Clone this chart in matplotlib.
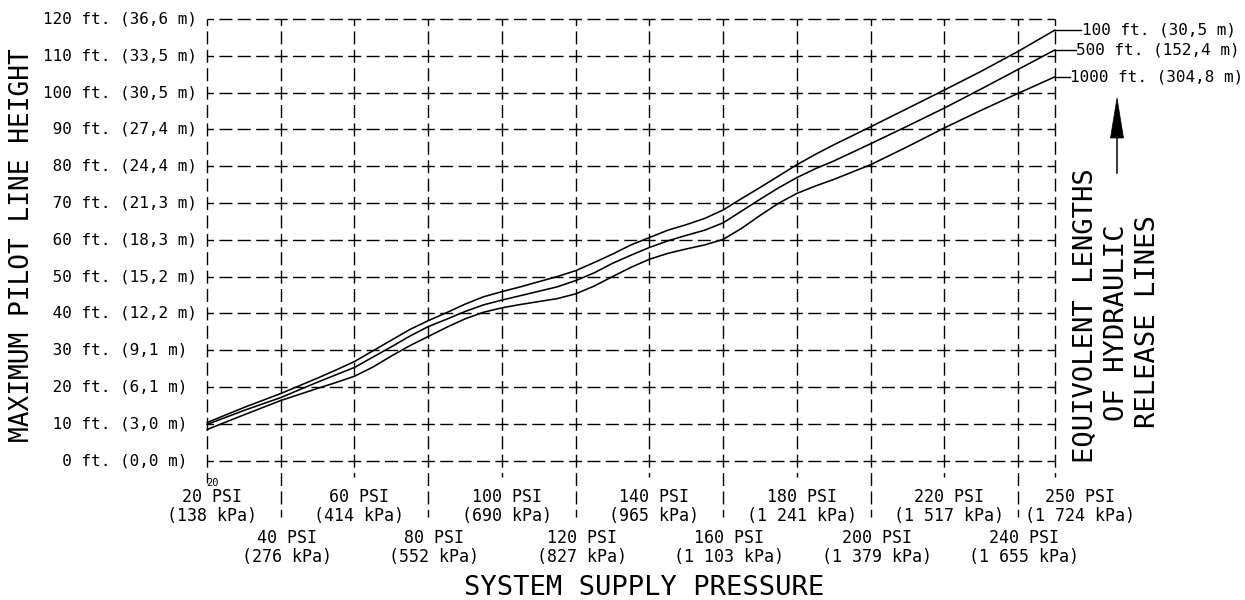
import matplotlib
matplotlib.use("Agg")
import matplotlib.pyplot as plt
import matplotlib.transforms as mtransforms
from matplotlib.patches import Polygon
from matplotlib.lines import Line2D

# ---------------- data ----------------
psi = [20, 30, 40, 50, 55, 60, 65, 70, 75, 80, 85, 90, 95, 100, 105, 110,
       115, 120, 125, 130, 135, 140, 145, 150, 155, 160, 165, 170, 175, 180,
       185, 190, 200, 210, 220, 230, 240, 250]
len_100 = [10.3, 14.4, 18.2, 22.4, 24.6, 26.9, 29.8, 32.7, 35.6, 38.0, 40.2,
           42.5, 44.5, 45.9, 47.2, 48.6, 50.0, 51.6, 53.8, 56.1, 58.6, 60.6,
           62.6, 64.1, 65.8, 68.1, 71.2, 74.2, 77.3, 80.4, 83.2, 85.8, 90.7,
           95.7, 100.7, 105.8, 111.2, 117.0]
len_500 = [9.8, 13.6, 17.1, 21.3, 23.3, 25.3, 28.1, 30.9, 33.8, 36.4, 38.4,
           40.5, 42.3, 43.6, 44.8, 46.0, 47.2, 48.9, 51.0, 53.6, 55.8, 57.9,
           59.7, 61.2, 62.6, 64.6, 67.8, 71.0, 74.1, 76.9, 79.3, 81.4, 86.1,
           90.9, 95.8, 101.0, 106.3, 111.6]
len_1000 = [8.4, 12.4, 16.3, 19.6, 21.2, 22.9, 25.4, 28.4, 31.2, 33.7, 36.2,
            38.5, 40.3, 41.5, 42.4, 43.2, 44.0, 45.3, 47.4, 50.0, 52.5, 54.7,
            56.3, 57.5, 58.6, 60.1, 63.1, 66.6, 69.9, 72.6, 74.6, 76.4, 80.4,
            85.3, 90.4, 95.2, 99.8, 104.3]
series_labels = ["100 ft. (30,5 m)", "500 ft. (152,4 m)", "1000 ft. (304,8 m)"]

y_ft = [0, 10, 20, 30, 40, 50, 60, 70, 80, 90, 100, 110, 120]
y_m = ["0,0", "3,0", "6,1", "9,1", "12,2", "15,2", "18,3", "21,3", "24,4",
       "27,4", "30,5", "33,5", "36,6"]

x_top_psi = [20, 60, 100, 140, 180, 220, 250]
x_top_kpa = ["138", "414", "690", "965", "1 241", "1 517", "1 724"]
x_bot_psi = [40, 80, 120, 160, 200, 240]
x_bot_kpa = ["276", "552", "827", "1 103", "1 379", "1 655"]

xlabel = "SYSTEM SUPPLY PRESSURE"
ylabel = "MAXIMUM PILOT LINE HEIGHT"
side_lines = ["EQUIVOLENT LENGTHS", "OF HYDRAULIC", "RELEASE LINES"]

# ---------------- style ----------------
plt.rcParams["font.family"] = ["DejaVu Sans Mono", "DejaVu Sans"]
plt.rcParams["lines.scale_dashes"] = False

W, H = 1245, 600
fig = plt.figure(figsize=(W / 100, H / 100), dpi=100)
fig.patch.set_facecolor("white")
ax = fig.add_axes([207 / W, 1 - 460.5 / H, (1055 - 207) / W, (460.5 - 19) / H])
ax.set_xlim(20, 250)
ax.set_ylim(0, 120)
ax.axis("off")

DASH = (4.68, (9.36, 3.89))  # 18.4 px period, dash centred on grid crossings
GRID_KW = dict(color="black", lw=1.0, ls=DASH, clip_on=False)

# horizontal grid lines
for ft in y_ft:
    ax.plot([20, 250], [ft, ft], **GRID_KW)

# vertical grid lines (extend below axis between tick labels)
for p in x_top_psi:
    bottom = -6.1 if p == 20 else -4.5
    ax.plot([p, p], [120, bottom], **GRID_KW)
for p in x_bot_psi:
    ax.plot([p, p], [120, -15.4], **GRID_KW)

# curves
for ys in (len_100, len_500, len_1000):
    ax.plot(psi, ys, color="black", lw=1.15, solid_joinstyle="round",
            solid_capstyle="round", clip_on=False)

# curve labels on the right
label_x = [257.0, 255.6, 254.0]
for ys, lab, lx in zip((len_100, len_500, len_1000), series_labels, label_x):
    ax.plot([250, lx], [ys[-1], ys[-1]], color="black", lw=1.0, clip_on=False)
    ax.text(lx + 0.2, ys[-1], lab, fontsize=11.5, ha="left", va="center",
            clip_on=False)

# y tick labels
ytrans = mtransforms.blended_transform_factory(fig.transFigure, ax.transData)
for ft, m in zip(y_ft, y_m):
    ax.text(43 / W, ft, f"{ft:>3} ft. ({m} m)", transform=ytrans,
            fontsize=11.5, ha="left", va="center")

# x tick labels
for p, k in zip(x_top_psi, x_top_kpa):
    xc = 256.8 if p == 250 else p + 1.3
    ax.text(xc, -9.9, f"{p} PSI", fontsize=12, ha="center", va="center",
            clip_on=False)
    ax.text(xc, -15.1, f"({k} kPa)", fontsize=12, ha="center", va="center",
            clip_on=False)
for p, k in zip(x_bot_psi, x_bot_kpa):
    xc = p + 1.6
    ax.text(xc, -21.1, f"{p} PSI", fontsize=12, ha="center", va="center",
            clip_on=False)
    ax.text(xc, -26.2, f"({k} kPa)", fontsize=12, ha="center", va="center",
            clip_on=False)

# small "20" marker next to the first vertical line
ax.text(21.5, -6.1, "20", fontsize=7.5, ha="center", va="center",
        clip_on=False)

# axis titles
fig.text(644 / W, 1 - 588 / H, xlabel, fontsize=19.5, ha="center",
         va="center")
fig.text(22.5 / W, 1 - 245 / H, ylabel, fontsize=18.8, ha="center",
         va="center", rotation=90)

# side text
for xpx, ypx, s in zip([1086, 1117, 1148], [316, 323, 322], side_lines):
    fig.text(xpx / W, 1 - ypx / H, s, fontsize=19.5, ha="center",
             va="center", rotation=90)

# arrow
def fp(x, y):
    return (x / W, 1 - y / H)

fig.add_artist(Line2D([1117 / W, 1117 / W], [1 - 173 / H, 1 - 136 / H],
                      color="black", lw=1.1, transform=fig.transFigure))
fig.add_artist(Polygon([fp(1117, 98), fp(1110.5, 138), fp(1123.5, 138)],
                       closed=True, facecolor="black", edgecolor="black",
                       lw=0.5, transform=fig.transFigure))

fig.savefig("out.png", dpi=100, facecolor="white")
